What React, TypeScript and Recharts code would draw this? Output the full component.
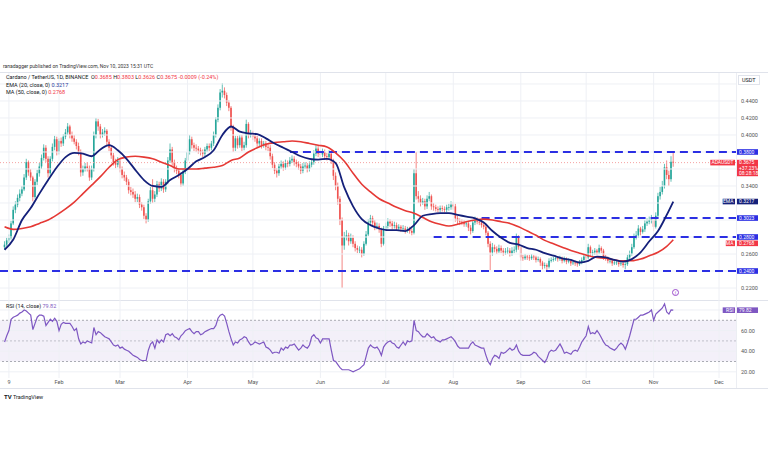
import React from "react";
import { ComposedChart, Bar, Line, XAxis, YAxis, ReferenceLine, ReferenceArea } from "recharts";

// ADA/USDT daily, Jan 7 .. Nov 10 2023 (day index 0..307), prices in thousandths
const FIRST_OPEN = 268;
const closes = [
  271, 276, 279, 296, 312, 318, 326, 331, 336, 350,
  368, 356, 350, 327, 345, 355, 363, 373, 385, 372,
  355, 372, 386, 395, 380, 393, 390, 398, 403, 410,
  400, 396, 392, 387, 380, 356, 360, 363, 361, 350,
  360, 400, 416, 410, 400, 403, 405, 392, 385, 376,
  368, 365, 370, 360, 353, 350, 345, 335, 333, 330,
  325, 327, 318, 315, 305, 300, 322, 335, 325, 330,
  342, 337, 345, 336, 345, 370, 383, 368, 360, 358,
  353, 343, 357, 370, 380, 395, 388, 385, 384, 382,
  380, 378, 383, 387, 385, 390, 400, 418, 432, 450,
  452, 447, 438, 432, 410, 385, 396, 388, 397, 385,
  388, 413, 400, 402, 398, 396, 390, 393, 388, 390,
  386, 385, 375, 365, 358, 355, 363, 366, 362, 367,
  366, 370, 372, 368, 366, 363, 358, 363, 364, 360,
  365, 368, 378, 384, 378, 377, 380, 375, 374, 378,
  370, 352, 340, 325, 300, 270, 280, 282, 275, 279,
  272, 267, 265, 265, 260, 272, 283, 297, 302, 297,
  292, 293, 289, 272, 290, 293, 298, 296, 293, 294,
  290, 292, 290, 290, 288, 289, 287, 285, 355, 328,
  325, 320, 322, 316, 325, 328, 316, 315, 313, 312,
  314, 313, 312, 315, 315, 318, 316, 302, 299, 298,
  297, 295, 296, 291, 287, 297, 300, 298, 297, 294,
  292, 285, 272, 262, 268, 266, 263, 267, 264, 262,
  263, 264, 261, 264, 265, 280, 268, 256, 255, 257,
  256, 255, 257, 256, 253, 254, 250, 246, 247, 245,
  252, 253, 254, 255, 254, 255, 252, 254, 251, 252,
  249, 250, 249, 248, 250, 253, 257, 256, 268, 261,
  262, 264, 262, 267, 264, 256, 255, 252, 252, 249,
  250, 250, 248, 249, 247, 248, 256, 260, 268, 280,
  282, 290, 286, 289, 296, 298, 300, 301, 292, 305,
  328, 333, 340, 362, 353, 348, 368.5, 367.5,
];
const highs = [
  275, 279, 283, 299, 316, 322, 330, 336, 340, 354,
  372, 370, 360, 352, 348, 359, 367, 377, 389, 388,
  375, 375, 390, 399, 398, 396, 397, 401, 407, 414,
  412, 404, 400, 395, 391, 383, 364, 367, 368, 364,
  364, 404, 420, 419, 413, 407, 409, 407, 395, 388,
  379, 372, 374, 372, 363, 357, 353, 348, 339, 337,
  334, 331, 330, 321, 318, 308, 325, 339, 348, 334,
  346, 345, 349, 348, 348, 374, 390, 386, 371, 364,
  361, 356, 360, 373, 384, 400, 398, 391, 389, 387,
  385, 383, 386, 390, 390, 393, 404, 421, 436, 454,
  461, 456, 450, 441, 434, 412, 399, 399, 400, 400,
  392, 418, 415, 406, 405, 401, 399, 396, 396, 393,
  393, 389, 388, 378, 368, 361, 366, 370, 369, 371,
  370, 374, 376, 375, 371, 369, 366, 367, 368, 367,
  369, 372, 382, 388, 387, 382, 384, 383, 379, 382,
  381, 372, 356, 344, 328, 303, 286, 288, 285, 284,
  282, 275, 270, 269, 268, 275, 287, 301, 306, 305,
  300, 297, 296, 291, 293, 297, 302, 301, 299, 298,
  297, 295, 294, 294, 293, 292, 292, 290, 360, 380,
  334, 329, 326, 325, 329, 333, 330, 320, 318, 316,
  317, 317, 316, 318, 319, 322, 321, 319, 305, 302,
  301, 300, 299, 299, 294, 300, 304, 303, 301, 300,
  297, 294, 287, 275, 273, 271, 269, 271, 270, 267,
  267, 268, 267, 268, 269, 284, 282, 270, 259, 260,
  259, 259, 260, 259, 258, 257, 256, 252, 250, 249,
  255, 256, 257, 258, 257, 258, 257, 257, 256, 255,
  254, 253, 252, 251, 253, 256, 260, 260, 272, 270,
  265, 267, 266, 271, 269, 266, 259, 257, 255, 254,
  253, 253, 252, 252, 251, 251, 259, 264, 272, 284,
  287, 294, 292, 293, 300, 302, 304, 306, 304, 309,
  332, 339, 346, 366, 370, 358, 375, 380.3,
];
const lows = [
  265, 269, 273, 277, 294, 308, 315, 322, 328, 334,
  347, 352, 346, 322, 325, 341, 351, 360, 370, 368,
  350, 352, 369, 382, 376, 377, 386, 387, 395, 400,
  396, 392, 389, 383, 376, 351, 352, 357, 357, 346,
  347, 357, 396, 405, 396, 397, 399, 388, 381, 372,
  364, 361, 362, 356, 349, 346, 341, 331, 329, 326,
  321, 321, 314, 311, 301, 296, 298, 319, 320, 321,
  327, 333, 334, 332, 333, 342, 367, 364, 356, 354,
  349, 339, 340, 354, 367, 377, 384, 381, 380, 378,
  376, 374, 375, 380, 381, 382, 387, 397, 415, 429,
  444, 443, 434, 428, 405, 380, 381, 384, 385, 381,
  382, 385, 396, 397, 394, 392, 386, 387, 384, 385,
  382, 381, 371, 361, 354, 350, 352, 360, 358, 359,
  362, 363, 367, 364, 362, 359, 354, 355, 360, 356,
  357, 362, 365, 375, 374, 373, 374, 371, 370, 371,
  366, 347, 335, 318, 294, 220, 265, 276, 270, 272,
  268, 263, 261, 261, 256, 258, 270, 281, 294, 293,
  288, 289, 285, 268, 270, 287, 290, 292, 289, 290,
  287, 287, 286, 286, 284, 285, 284, 282, 283, 324,
  320, 316, 318, 312, 313, 322, 312, 311, 310, 309,
  309, 310, 309, 309, 311, 312, 312, 298, 295, 294,
  294, 292, 292, 287, 283, 285, 294, 295, 294, 291,
  289, 282, 268, 241, 258, 262, 260, 261, 261, 258,
  259, 260, 257, 258, 261, 262, 265, 252, 252, 253,
  253, 252, 253, 253, 250, 251, 246, 242, 243, 240,
  243, 250, 251, 252, 251, 252, 249, 250, 248, 249,
  246, 247, 246, 245, 246, 248, 251, 253, 254, 258,
  258, 259, 259, 260, 261, 253, 252, 249, 249, 246,
  247, 247, 245, 246, 244, 242, 246, 254, 258, 266,
  277, 279, 282, 284, 286, 293, 295, 296, 287, 290,
  303, 324, 330, 337, 348, 340, 345, 362.6,
];
// RSI(14), one value per day
const rsi = [
  49, 55, 60, 71, 73, 74, 75, 77, 78, 80,
  79, 77, 75, 61, 67, 73, 75, 75, 74, 65,
  68, 71, 69, 72, 69, 60, 66, 68, 67, 67,
  67, 64, 60, 62, 52, 47, 49, 48, 50, 49,
  48, 63, 56, 59, 58, 56, 54, 53, 52, 49,
  46, 45, 46, 43, 44, 42, 41, 40, 38, 36,
  35, 34, 32, 31, 31, 31, 41, 47, 49, 43,
  51, 48, 51, 49, 56, 57, 55, 57, 54, 53,
  51, 55, 57, 60, 61, 62, 59, 57, 59, 59,
  56, 57, 59, 60, 61, 62, 62, 65, 72, 75,
  76, 74, 67, 59, 52, 46, 49, 48, 51, 52,
  54, 53, 49, 46, 47, 49, 48, 47, 48, 49,
  44, 43, 41, 38, 39, 39, 38, 43, 41, 44,
  43, 46, 46, 47, 44, 41, 43, 46, 44, 43,
  46, 54, 56, 53, 52, 48, 52, 52, 52, 52,
  41, 31, 30, 27, 24, 22, 22, 22, 22, 21,
  20, 21, 22, 23, 25, 27, 35, 43, 46, 44,
  43, 44, 41, 36, 44, 47, 49, 50, 48, 47,
  44, 43, 46, 49, 46, 50, 49, 50, 70, 60,
  59, 56, 54, 54, 57, 55, 53, 54, 51, 50,
  49, 51, 51, 52, 53, 54, 52, 49, 45, 43,
  43, 43, 43, 43, 47, 49, 46, 45, 44, 43,
  43, 36, 30, 27, 33, 36, 35, 33, 39, 38,
  39, 41, 43, 41, 42, 46, 40, 37, 36, 36,
  36, 36, 37, 39, 38, 35, 33, 31, 29, 33,
  39, 41, 40, 41, 44, 47, 43, 38, 39, 38,
  37, 40, 41, 40, 44, 49, 52, 55, 64, 57,
  58, 57, 60, 57, 53, 49, 46, 45, 43, 42,
  41, 43, 46, 48, 46, 42, 48, 55, 63, 71,
  71, 73, 75, 75, 76, 77, 78, 80, 70, 76,
  78, 80, 82, 86, 78, 76, 80, 79.82,
];
// EMA 20 and MA 50 read every 4th day, last entry is the last day
const ema = [
  0.265, 0.277, 0.3, 0.314, 0.331, 0.347, 0.362, 0.374, 0.379, 0.378,
  0.375, 0.383, 0.388, 0.382, 0.372, 0.359, 0.347, 0.34, 0.339, 0.347,
  0.353, 0.36, 0.369, 0.374, 0.382, 0.4, 0.41, 0.404, 0.402, 0.401,
  0.396, 0.39, 0.385, 0.38, 0.375, 0.372, 0.371, 0.372, 0.367, 0.338,
  0.316, 0.301, 0.294, 0.29, 0.288, 0.288, 0.287, 0.294, 0.305, 0.307,
  0.308, 0.308, 0.306, 0.304, 0.302, 0.297, 0.287, 0.279, 0.273, 0.271,
  0.267, 0.265, 0.261, 0.258, 0.255, 0.253, 0.25, 0.252, 0.257, 0.256,
  0.253, 0.251, 0.254, 0.262, 0.275, 0.287, 0.306, 0.3217,
];
const ma = [
  0.292, 0.289, 0.29, 0.292, 0.296, 0.3, 0.306, 0.313, 0.321, 0.331,
  0.341, 0.351, 0.362, 0.371, 0.374, 0.375, 0.374, 0.372, 0.368, 0.364,
  0.36, 0.36, 0.36, 0.361, 0.362, 0.364, 0.37, 0.373, 0.38, 0.385,
  0.389, 0.391, 0.392, 0.393, 0.392, 0.39, 0.388, 0.386, 0.379, 0.369,
  0.355, 0.342, 0.333, 0.325, 0.32, 0.315, 0.311, 0.308, 0.303, 0.298,
  0.295, 0.293, 0.295, 0.298, 0.3, 0.301, 0.3, 0.298, 0.296, 0.292,
  0.287, 0.282, 0.276, 0.272, 0.268, 0.264, 0.261, 0.258, 0.256, 0.255,
  0.253, 0.252, 0.252, 0.254, 0.258, 0.262, 0.269, 0.2768,
];

const monthDays = [2, 25, 53, 84, 114, 145, 175, 206, 237, 267, 298, 328];
const monthLabels = ["9", "Feb", "Mar", "Apr", "May", "Jun", "Jul", "Aug", "Sep", "Oct", "Nov", "Dec"];
const priceTicks = [0.22, 0.26, 0.34, 0.4, 0.42, 0.44];
const priceGrid = [0.22, 0.24, 0.26, 0.28, 0.3, 0.32, 0.34, 0.36, 0.38, 0.4, 0.42, 0.44, 0.46];
const rsiTicks = [20, 40, 60];
const rsiGrid = [20, 40, 60, 80];
// horizontal levels drawn by the author: price and first day
const levelPrices = [0.38, 0.3023, 0.28, 0.24];
const levelStart = [131, 219, 197, -2.1];
const lastPrice = 0.3675;
const lastEma = 0.3217;
const lastMa = 0.2768;
const lastRsi = 79.82;

const X_DOMAIN = [-2.1, 335.8];
const UP = "#26a69a";
const DOWN = "#ef5350";
const BLUE = "#2b2fe3";
const NAVY = "#14207a";
const RED = "#e53935";
const PURPLE = "#7e57c2";
const GRID = "#eef0f5";
const FONT = "Roboto, 'Noto Sans', sans-serif";

const rows: any[] = closes.map((c, i) => {
  const open = (i === 0 ? FIRST_OPEN : closes[i - 1]) / 1000;
  return {
    i,
    open,
    close: c / 1000,
    high: highs[i] / 1000,
    low: lows[i] / 1000,
    range: [lows[i] / 1000, highs[i] / 1000],
    rsi: rsi[i],
  };
});
ema.forEach((v, k) => {
  const day = k === ema.length - 1 ? closes.length - 1 : k * 4;
  rows[day].ema = v;
  rows[day].ma = ma[k];
});

function Candle(props: any) {
  const { x, y, width, height, payload } = props;
  if (!payload || x == null) return null;
  const top = Math.min(y, y + height);
  const h = Math.abs(height);
  const span = payload.high - payload.low;
  const k = span > 0 ? h / span : 0;
  const yOf = (v: number) => top + (payload.high - v) * k;
  const cx = x + width / 2;
  const col = payload.close >= payload.open ? UP : DOWN;
  const b1 = yOf(Math.max(payload.open, payload.close));
  const b2 = yOf(Math.min(payload.open, payload.close));
  return (
    <g>
      <line x1={cx} x2={cx} y1={top} y2={top + h} stroke={col} strokeWidth={0.7} />
      <rect x={cx - 0.8} y={b1} width={1.6} height={Math.max(0.7, b2 - b1)} fill={col} />
    </g>
  );
}

// tag on the price scale; optional name tag to its left, dy pushes it off a neighbour
function tag(text: string, bg: string, name?: string, extra?: string[], dy = 0) {
  return {
    content: (p: any) => {
      const vb = p.viewBox;
      if (!vb) return null;
      const right = vb.x + vb.width;
      const y = vb.y + dy;
      const lines = extra ? [text, ...extra] : [text];
      const h = 5.6 + (lines.length - 1) * 5.4;
      return (
        <g fontFamily={FONT}>
          <rect x={right + 1} y={y - 2.8} width={21} height={h} fill={bg} />
          {lines.map((t, j) => (
            <text key={j} x={right + 3} y={y + 1.8 + j * 5.4} fontSize={5} fill="#fff">{t}</text>
          ))}
          {name ? (
            <g>
              <rect x={right - 1 - name.length * 3.1 - 3} y={y - 2.8} width={name.length * 3.1 + 3} height={5.6} fill={bg} />
              <text x={right - 2.5} y={y + 1.8} fontSize={5} fill="#fff" textAnchor="end">{name}</text>
            </g>
          ) : null}
        </g>
      );
    },
  };
}

const monthFmt = (v: number) => monthLabels[monthDays.indexOf(v)] ?? "";

function PriceChart() {
  return (
    <ComposedChart width={768} height={227} data={rows} margin={{ top: 0, right: 0, bottom: 0, left: 0 }}>
      <XAxis dataKey="i" type="number" domain={X_DOMAIN} allowDataOverflow hide />
      <YAxis
        orientation="right"
        type="number"
        domain={[0.2059, 0.4729]}
        allowDataOverflow
        ticks={priceTicks}
        width={32}
        axisLine={false}
        tickLine={false}
        tickSize={0}
        tickMargin={5}
        tick={{ fontSize: 5.5, fill: "#555", fontFamily: FONT, textAnchor: "start" }}
        tickFormatter={(v: number) => v.toFixed(4)}
      />
      {priceGrid.map((p) => (
        <ReferenceLine key={"g" + p} y={p} stroke={GRID} strokeWidth={1} />
      ))}
      {monthDays.map((d) => (
        <ReferenceLine key={"m" + d} x={d} stroke={GRID} strokeWidth={1} />
      ))}
      <ReferenceLine y={lastPrice} stroke="#f5a3a3" strokeDasharray="1 2" strokeWidth={1} />
      {levelPrices.map((p, j) => (
        <ReferenceLine
          key={"l" + p}
          segment={[{ x: levelStart[j], y: p }, { x: X_DOMAIN[1], y: p }]}
          stroke={BLUE}
          strokeWidth={2}
          strokeDasharray="8 5"
        />
      ))}
      <Bar dataKey="range" barSize={2} isAnimationActive={false} shape={(p: any) => <Candle {...p} />} />
      <Line dataKey="ma" type="monotone" stroke={RED} strokeWidth={1.6} dot={false} connectNulls isAnimationActive={false} />
      <Line dataKey="ema" type="monotone" stroke={NAVY} strokeWidth={1.8} dot={false} connectNulls isAnimationActive={false} />
      {levelPrices.map((p) => (
        <ReferenceLine key={"t" + p} y={p} stroke="none" label={tag(p.toFixed(4), BLUE)} />
      ))}
      <ReferenceLine y={lastPrice} stroke="none" label={tag(lastPrice.toFixed(4), "#f23645", "ADAUSDT", ["+37.23%", "08:28:18"])} />
      <ReferenceLine y={lastEma} stroke="none" label={tag(lastEma.toFixed(4), NAVY, "EMA")} />
      <ReferenceLine y={lastMa} stroke="none" label={tag(lastMa.toFixed(4), "#f23645", "MA", undefined, 3.6)} />
    </ComposedChart>
  );
}

function RsiChart() {
  return (
    <ComposedChart width={768} height={88} data={rows} margin={{ top: 0, right: 0, bottom: 0, left: 0 }}>
      <XAxis
        dataKey="i"
        type="number"
        domain={X_DOMAIN}
        allowDataOverflow
        ticks={monthDays}
        tickFormatter={monthFmt}
        height={10}
        axisLine={false}
        tickLine={false}
        tickSize={0}
        tickMargin={2}
        tick={{ fontSize: 5.5, fill: "#555", fontFamily: FONT }}
      />
      <YAxis
        orientation="right"
        type="number"
        domain={[14, 89.7]}
        allowDataOverflow
        ticks={rsiTicks}
        width={32}
        axisLine={false}
        tickLine={false}
        tickSize={0}
        tickMargin={5}
        tick={{ fontSize: 5.5, fill: "#555", fontFamily: FONT, textAnchor: "start" }}
        tickFormatter={(v: number) => v.toFixed(2)}
      />
      {rsiGrid.map((r) => (
        <ReferenceLine key={"g" + r} y={r} stroke={GRID} strokeWidth={1} />
      ))}
      {monthDays.map((d) => (
        <ReferenceLine key={"m" + d} x={d} stroke={GRID} strokeWidth={1} />
      ))}
      <ReferenceArea y1={30} y2={70} fill={PURPLE} fillOpacity={0.09} stroke="none" />
      <ReferenceLine y={70} stroke="#9598a1" strokeDasharray="2 2" strokeWidth={0.8} />
      <ReferenceLine y={50} stroke="#b2b5be" strokeDasharray="2 2" strokeWidth={0.8} />
      <ReferenceLine y={30} stroke="#9598a1" strokeDasharray="2 2" strokeWidth={0.8} />
      <Line dataKey="rsi" type="linear" stroke={PURPLE} strokeWidth={1.2} dot={false} isAnimationActive={false} />
      <ReferenceLine y={lastRsi} stroke="none" label={tag(lastRsi.toFixed(2), PURPLE, "RSI")} />
    </ComposedChart>
  );
}

const red = { color: "#f23645" };

export default function App() {
  return (
    <div style={{ position: "absolute", left: 0, top: 0, width: 768, height: 463, background: "#fff", fontFamily: FONT, overflow: "hidden" }}>
      <div style={{ position: "absolute", left: 3, top: 63, fontSize: 5, color: "#333", whiteSpace: "nowrap" }}>
        ranadagger published on TradingView.com, Nov 10, 2023 15:31 UTC
      </div>
      <div style={{ position: "absolute", left: 0, top: 72, width: 768, height: 1, background: "#e0e3eb" }} />
      <div style={{ position: "absolute", left: 0, top: 73 }}>
        <PriceChart />
      </div>
      <div style={{ position: "absolute", left: 0, top: 300, width: 768, height: 1, background: "#e0e3eb" }} />
      <div style={{ position: "absolute", left: 0, top: 300 }}>
        <RsiChart />
      </div>
      <div style={{ position: "absolute", left: 736, top: 73, width: 1, height: 315, background: "#eceef3" }} />
      <div style={{ position: "absolute", left: 0, top: 388, width: 768, height: 1, background: "#e0e3eb" }} />
      <div style={{ position: "absolute", left: 6, top: 74, fontSize: 5.5, lineHeight: "7.5px", color: "#131722", whiteSpace: "nowrap" }}>
        <div>
          Cardano / TetherUS, 1D, BINANCE&nbsp; O<span style={red}>0.3685</span> H<span style={red}>0.3803</span> L
          <span style={red}>0.3626</span> C<span style={red}>0.3675</span> <span style={red}>-0.0009 (-0.24%)</span>
        </div>
        <div>
          EMA (20, close, 0) <span style={{ color: "#2a3a9c" }}>0.3217</span>
        </div>
        <div>
          MA (50, close, 0) <span style={red}>0.2768</span>
        </div>
      </div>
      <div style={{ position: "absolute", left: 6, top: 303, fontSize: 5.5, color: "#131722", whiteSpace: "nowrap" }}>
        RSI (14, close) <span style={{ color: PURPLE }}>79.82</span>
      </div>
      <div style={{ position: "absolute", left: 738, top: 75, fontSize: 5.5, color: "#131722", background: "#fff", border: "0.5px solid #e0e3eb", padding: "0 3px", lineHeight: "8px" }}>
        USDT
      </div>
      <div style={{ position: "absolute", left: 672, top: 289, width: 7, height: 7, borderRadius: "50%", border: "1px solid #9c4dcc", boxSizing: "border-box", fontSize: 4, color: "#9c4dcc", textAlign: "center", lineHeight: "5px" }}>
        ƒ
      </div>
      <div style={{ position: "absolute", left: 4, top: 393, fontSize: 5.5, color: "#131722", whiteSpace: "nowrap" }}>
        <b style={{ fontSize: 6 }}>TV</b> TradingView
      </div>
    </div>
  );
}
